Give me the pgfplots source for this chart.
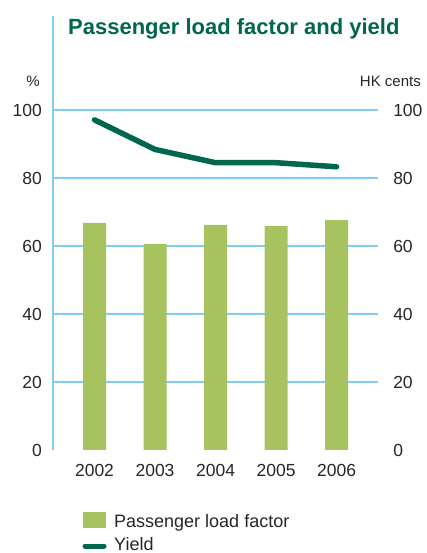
\documentclass[border=0pt]{standalone}
\usepackage{pgfplots}
\pgfplotsset{compat=1.18}
\usepackage{fontspec}
\setmainfont{Liberation Sans}
\definecolor{gridblue}{HTML}{7FCDF4}
\definecolor{barfill}{HTML}{A6C35F}
\definecolor{yieldc}{HTML}{00664F}
\pgfplotstableread{
x load yield
0 66.8 97.1
1 60.6 88.4
2 66.2 84.5
3 65.9 84.5
4 67.6 83.3
}\datatable
\begin{document}
\begin{tikzpicture}
\useasboundingbox (-53pt,-103pt) rectangle (373pt,450pt);
\begin{axis}[
  at={(0pt,0pt)}, anchor=south west,
  scale only axis, width=325pt, height=434pt,
  xmin=-0.686, xmax=4.686, ymin=0, ymax=127.65,
  xtick={0,1,2,3,4}, xticklabels={2002,2003,2004,2005,2006},
  ytick={20,40,60,80,100}, extra y ticks={0}, extra y tick style={grid=none},
  ymajorgrids, grid style={gridblue, line width=1.2pt},
  major tick length=0pt,
  axis x line*=bottom, x axis line style={draw=none},
  axis y line*=left, y axis line style={draw=gridblue, line width=1.2pt, -},
  /pgf/number format/assume math mode=true,
  tick label style={font=\fontsize{17.5}{20}\selectfont, text=black!85},
  yticklabel style={anchor=east, inner sep=0pt, xshift=-11pt},
  xticklabel style={anchor=north, inner sep=0pt, yshift=-14pt},
  clip=false,
]
\addplot[ybar, bar width=23pt, fill=barfill, draw=none] table[x=x, y=load] {\datatable};
\addplot[color=yieldc, line width=5.5pt, line cap=round, line join=round] table[x=x, y=yield] {\datatable};
\end{axis}
\begin{axis}[
  at={(0pt,0pt)}, anchor=south west,
  scale only axis, width=325pt, height=434pt,
  xmin=-0.686, xmax=4.686, ymin=0, ymax=127.65,
  ytick={0,20,40,60,80,100},
  major tick length=0pt,
  axis x line=none,
  axis y line*=right, y axis line style={draw=none},
  /pgf/number format/assume math mode=true,
  tick label style={font=\fontsize{17.5}{20}\selectfont, text=black!85},
  yticklabel style={anchor=west, inner sep=0pt, xshift=15pt},
]
\addplot[draw=none] coordinates {(0,0)};
\end{axis}
\node[anchor=base west, inner sep=0pt, text=yieldc, font=\fontsize{22}{26}\selectfont\bfseries] at (15pt,415pt) {Passenger load factor and yield};
\node[anchor=base east, inner sep=0pt, text=black!85, font=\fontsize{15}{18}\selectfont] at (-13pt,363pt) {\%};
\node[anchor=base east, inner sep=0pt, text=black!85, font=\fontsize{15}{18}\selectfont] at (368pt,363pt) {HK cents};
\fill[barfill] (30pt,-62pt) rectangle (53pt,-78pt);
\draw[yieldc, line width=5pt, line cap=round] (32pt,-96pt) -- (51pt,-96pt);
\node[anchor=base west, inner sep=0pt, text=black!85, font=\fontsize{18}{21}\selectfont] at (61pt,-77pt) {Passenger load factor};
\node[anchor=base west, inner sep=0pt, text=black!85, font=\fontsize{18}{21}\selectfont] at (61pt,-100pt) {Yield};
\end{tikzpicture}
\end{document}
